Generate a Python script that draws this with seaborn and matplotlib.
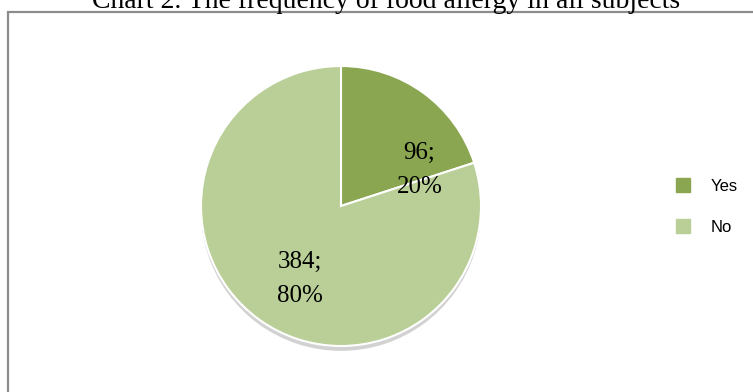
import matplotlib
matplotlib.use("Agg")
import matplotlib.pyplot as plt
import seaborn as sns
from matplotlib.patches import Rectangle
from matplotlib.lines import Line2D

# Food allergy counts
categories = ["Yes", "No"]
counts = [96, 384]
percents = [20, 80]
colors = ["#8ba650", "#bacf97"]

title = "Chart 2. The frequency of food allergy in all subjects"

sns.set_theme(style="white")
plt.rcParams["font.family"] = ["Liberation Sans", "DejaVu Sans"]

W, H = 753, 392
fig = plt.figure(figsize=(W / 100, H / 100), dpi=100)
fig.patch.set_facecolor("white")

# Chart frame (runs off the right and bottom edges)
fig.patches.append(Rectangle((8 / W, -0.1), 1.0, (H - 12) / H + 0.1,
                             transform=fig.transFigure, fill=False,
                             edgecolor="#8c8c8c", linewidth=1.6))

# Title, partially above the top edge
fig.text(386 / W, 1 - 8 / H, title, ha="center", va="baseline",
         fontsize=20, family=["Liberation Serif", "DejaVu Serif"], color="black")

# Pie axes: centre (341, 206) px, radius 140 px
cx, cy, r = 341, 206, 140
pad = 1.15
ax = fig.add_axes([(cx - r * pad) / W, (H - cy - r * pad) / H,
                   2 * r * pad / W, 2 * r * pad / H])
wedges, _ = ax.pie(counts, colors=colors, startangle=90, counterclock=False,
                   radius=1.0,
                   wedgeprops=dict(edgecolor="white", linewidth=1.5),
                   shadow=dict(ox=0.0, oy=-0.025, shade=0.0, alpha=0.35,
                               facecolor="#7f7f7f", edgecolor="none"))
ax.set_xlim(-pad, pad)
ax.set_ylim(-pad, pad)
ax.set_aspect("equal")
ax.axis("off")

# Data labels "count; percent"
label_pos = [(0.56, 0.26), (-0.29, -0.52)]
for (x, y), n, p in zip(label_pos, counts, percents):
    ax.text(x, y, f"{n};\n{p}%", ha="center", va="center", fontsize=18,
            family=["Liberation Serif", "DejaVu Serif"], color="black",
            linespacing=1.7)

# Legend
handles = [Line2D([0], [0], marker="s", linestyle="none", markersize=9.5,
                  markerfacecolor=c, markeredgecolor=c) for c in colors]
leg = fig.legend(handles, categories, loc="center left",
                 bbox_to_anchor=(660 / W, 1 - 207 / H), frameon=False,
                 fontsize=12, labelspacing=1.55, handletextpad=1.15,
                 handlelength=1.0)
for t in leg.get_texts():
    t.set_color("black")

fig.savefig("out.png", dpi=100, facecolor="white")
